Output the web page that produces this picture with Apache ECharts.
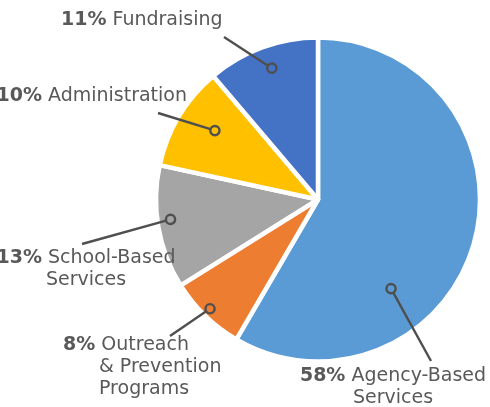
<!DOCTYPE html>
<html>
<head>
<meta charset="utf-8">
<script src="https://cdn.jsdelivr.net/npm/echarts@6/dist/echarts.min.js"></script>
<style>
  html, body { margin: 0; padding: 0; background: #fff; }
  #chart { width: 490px; height: 407px; }
</style>
</head>
<body>
<div id="chart"></div>
<script>
// ---- data ----
const categories = ['Agency-Based Services', 'Outreach & Prevention Programs', 'School-Based Services', 'Administration', 'Fundraising'];
const values = [58.4, 7.7, 12.3, 10.4, 11.2];
const percentLabels = ['58%', '8%', '13%', '10%', '11%'];
const labelTextLines = [
  ['Agency-Based', 'Services'],
  ['Outreach', '& Prevention', 'Programs'],
  ['School-Based', 'Services'],
  ['Administration'],
  ['Fundraising']
];
const colors = ['#5B9BD5', '#ED7D31', '#A5A5A5', '#FFC000', '#4472C4'];

// ---- layout / style (not data) ----
const CX = 318, CY = 199.5, R = 162;
const labelPos = [
  { x: 393, y: 387.5, align: 'center', indent: 0 },
  { x: 63,  y: 367,   align: 'left',   indent: 36 },
  { x: 86,  y: 269.5, align: 'center', indent: 0 },
  { x: 187, y: 96.5,  align: 'right',  indent: 0 },
  { x: 61,  y: 20.5,  align: 'left',   indent: 0 }
];
// leader anchor inside slice: fraction of the slice sweep, fraction of radius
const anchorFrac = [[0.669, 0.72], [0.52, 0.96], [0.55, 0.93], [0.575, 0.775], [0.52, 0.87]];
// leader end point near the label
const leaderEnd = [[431, 361], [170, 336], [82, 244], [158, 113], [224, 37]];

const TEXT = '#595959';
const LEADER = '#4f4f4f';
const FONT = 'DejaVu Sans';

const chart = echarts.init(document.getElementById('chart'), null, { renderer: 'canvas' });

const total = values.reduce((a, b) => a + b, 0);
let cum = 0;
const graphics = [];
values.forEach((v, i) => {
  const start = cum / total * 360;
  const span = v / total * 360;
  cum += v;
  const ang = (start + span * anchorFrac[i][0]) * Math.PI / 180;
  const r = (R - 2) * anchorFrac[i][1];
  const ax = CX + r * Math.sin(ang);
  const ay = CY - r * Math.cos(ang);
  const ex = leaderEnd[i][0], ey = leaderEnd[i][1];
  const dx = ex - ax, dy = ey - ay, len = Math.sqrt(dx * dx + dy * dy);
  const cr = 4.6;
  graphics.push({
    type: 'line', silent: true, z: 10,
    shape: { x1: ax + dx / len * cr, y1: ay + dy / len * cr, x2: ex, y2: ey },
    style: { stroke: LEADER, lineWidth: 2.4 }
  });
  graphics.push({
    type: 'circle', silent: true, z: 10,
    shape: { cx: ax, cy: ay, r: cr },
    style: { fill: 'transparent', stroke: LEADER, lineWidth: 2.4 }
  });
});

const option = {
  animation: false,
  color: colors,
  series: [{
    type: 'pie',
    center: [CX, CY],
    radius: [0, R],
    startAngle: 90,
    clockwise: true,
    avoidLabelOverlap: false,
    silent: true,
    itemStyle: { borderColor: '#ffffff', borderWidth: 4.5 },
    label: {
      show: true,
      position: 'outside',
      fontFamily: FONT,
      fontSize: 19,
      lineHeight: 22,
      color: TEXT,
      formatter: function (p) {
        const i = p.dataIndex;
        const lines = labelTextLines[i];
        let s = '{p|' + percentLabels[i] + '} {t|' + lines[0] + '}';
        for (let k = 1; k < lines.length; k++) {
          s += '\n{' + (labelPos[i].indent ? 'i' : 't') + '|' + lines[k] + '}';
        }
        return s;
      },
      rich: {
        p: { fontFamily: FONT, fontSize: 19, fontWeight: 'bold', color: TEXT, lineHeight: 22 },
        t: { fontFamily: FONT, fontSize: 19, color: TEXT, lineHeight: 22 },
        i: { fontFamily: FONT, fontSize: 19, color: TEXT, lineHeight: 22, padding: [0, 0, 0, 36] }
      }
    },
    labelLine: { show: false },
    labelLayout: function (params) {
      const c = labelPos[params.dataIndex];
      return { x: c.x, y: c.y, align: c.align, verticalAlign: 'middle' };
    },
    data: categories.map((name, i) => ({ name: name, value: values[i] }))
  }],
  graphic: graphics
};
chart.setOption(option);
</script>
</body>
</html>
